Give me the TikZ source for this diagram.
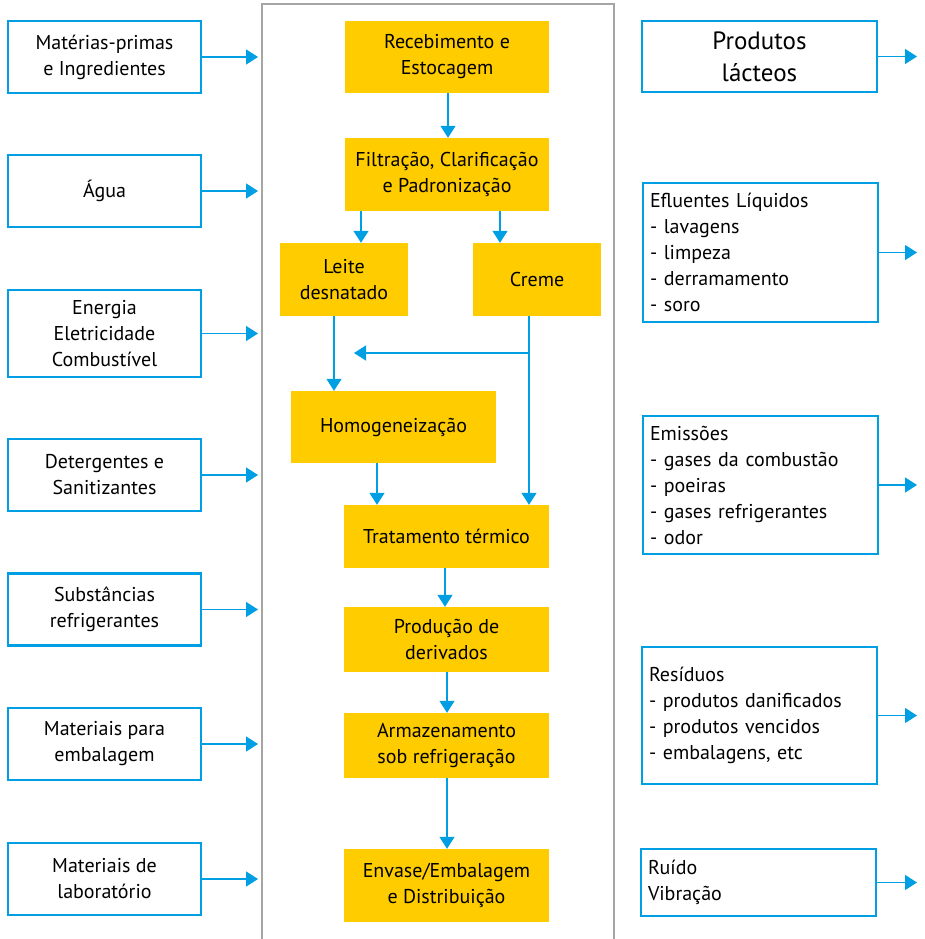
\documentclass[tikz,border=0pt]{standalone}
\usepackage{fontspec}
\setmainfont{PT Sans}
\usetikzlibrary{arrows.meta}
\definecolor{FlowBlue}{RGB}{0,159,227}
\definecolor{StepYellow}{RGB}{255,204,0}
\definecolor{FrameGray}{RGB}{165,165,165}

\tikzset{
	inbox/.style={draw=FlowBlue, line width=2.5pt, minimum width=193pt, minimum height=72pt,
		inner sep=0pt, align=center, font=\fontsize{20}{26}\selectfont},
	outbox/.style={draw=FlowBlue, line width=2.5pt, text width=221pt, inner xsep=7pt,
		inner ysep=0pt, align=left, font=\fontsize{20}{26}\selectfont},
	stepbox/.style={fill=StepYellow, inner sep=0pt, align=center, minimum width=205pt,
		font=\fontsize{20}{26}\selectfont},
	flow/.style={FlowBlue, line width=1.4pt, -{Triangle[length=12pt, width=15pt]}}
}

\begin{document}
\begin{tikzpicture}[x=1pt, y=-1pt]
		\useasboundingbox (0,0) rectangle (925,939);
		% frame round the process
		\draw[FrameGray, line width=2.5pt] (262,939) -- (262,4) -- (614,4) -- (614,939);
		\coordinate (inedge) at (258,0);
		\coordinate (outedge) at (917,0);
		% inputs
		\node[inbox] (mat) at (104.5,57) {Matérias-primas\\e Ingredientes};
		\node[inbox] (agua) at (104.5,191) {Água};
		\node[inbox, minimum height=87pt] (ener) at (104.5,333.5) {Energia\\Eletricidade\\Combustível};
		\node[inbox] (det) at (104.5,475) {Detergentes e\\Sanitizantes};
		\node[inbox] (subs) at (104.5,609.5) {Substâncias\\refrigerantes};
		\node[inbox] (emb) at (104.5,744) {Materiais para\\embalagem};
		\node[inbox] (lab) at (104.5,879) {Materiais de\\laboratório};
		\foreach \n in {mat,agua,ener,det,subs,emb,lab}
			\draw[flow] (\n.east) -- (\n.east -| inedge);
		% outputs
		\node[outbox, align=center, minimum height=71pt, font=\fontsize{25}{32}\selectfont] (prod) at (759.5,56.5) {Produtos\\lácteos};
		\node[outbox, minimum height=139pt] (eflu) at (760.5,252.5) {Efluentes Líquidos\\- lavagens\\- limpeza\\- derramamento\\- soro};
		\node[outbox, minimum height=138pt] (emis) at (760.5,485) {Emissões\\- gases da combustão\\- poeiras\\- gases refrigerantes\\- odor};
		\node[outbox, minimum height=137pt] (resi) at (759.5,715.5) {Resíduos\\- produtos danificados\\- produtos vencidos\\- embalagens, etc};
		\node[outbox, minimum height=67pt] (ruido) at (758.5,882.5) {Ruído\\Vibração};
		\foreach \n in {prod,eflu,emis,resi,ruido}
			\draw[flow] (\n.east) -- (\n.east -| outedge);
		% process steps
		\node[stepbox, minimum width=204pt, minimum height=72pt] (receb) at (447,57) {Recebimento e\\Estocagem};
		\node[stepbox, minimum width=204pt, minimum height=73pt] (filt) at (447,174.5) {Filtração, Clarificação\\e Padronização};
		\node[stepbox, minimum width=128pt, minimum height=73pt] (leite) at (344,279.5) {Leite\\desnatado};
		\node[stepbox, minimum width=128pt, minimum height=73pt] (creme) at (537,279.5) {Creme};
		\node[stepbox, minimum height=72pt] (homog) at (393.5,427) {Homogeneização};
		\node[stepbox, minimum height=63pt] (trat) at (446.5,536.5) {Tratamento térmico};
		\node[stepbox, minimum height=65pt] (deriv) at (446.5,639.5) {Produção de\\derivados};
		\node[stepbox, minimum height=65pt] (armaz) at (446.5,745.5) {Armazenamento\\sob refrigeração};
		\node[stepbox, minimum height=73pt] (envase) at (446.5,885.5) {Envase/Embalagem\\e Distribuição};
		\coordinate (merge) at (354,353);
		\draw[flow] (receb.south -| 448,0) -- (filt.north -| 448,0);
		\draw[flow] (filt.south -| 361,0) -- (leite.north -| 361,0);
		\draw[flow] (filt.south -| 500,0) -- (creme.north -| 500,0);
		\draw[flow] (leite.south -| 334,0) -- (homog.north -| 334,0);
		\draw[flow] (creme.south -| 529,0) -- (trat.north -| 529,0);
		\draw[flow] (merge -| 529,0) -- (merge);
		\draw[flow] (homog.south -| 377,0) -- (trat.north -| 377,0);
		\draw[flow] (trat.south -| 445,0) -- (deriv.north -| 445,0);
		\draw[flow] (deriv.south -| 447,0) -- (armaz.north -| 447,0);
		\draw[flow] (armaz.south -| 447,0) -- (envase.north -| 447,0);
	\end{tikzpicture}
\end{document}
